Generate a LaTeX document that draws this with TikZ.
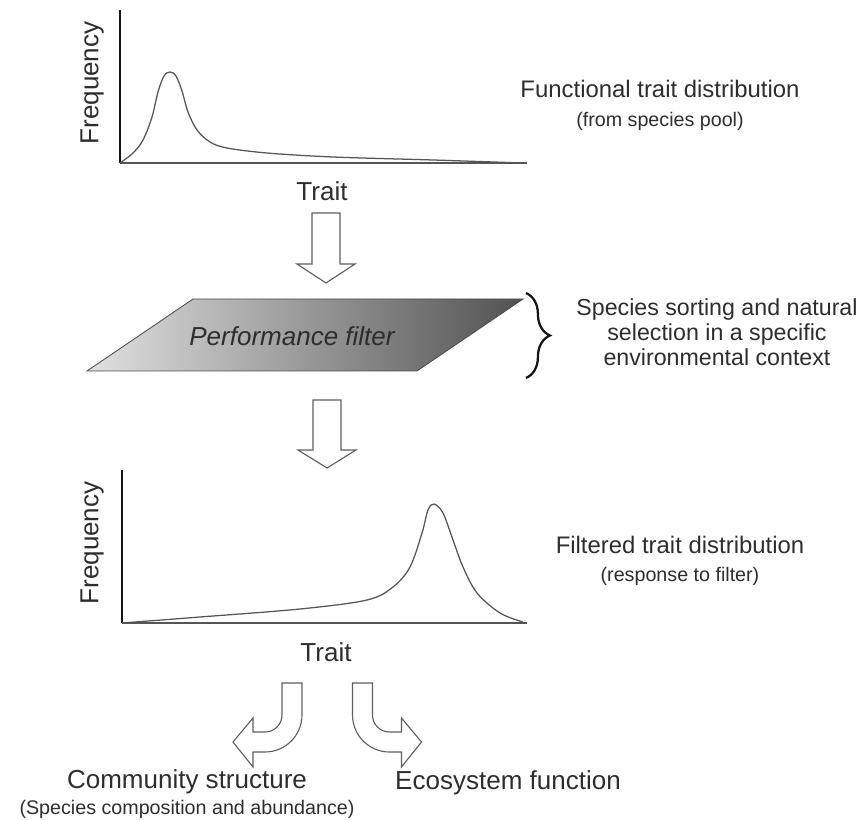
\documentclass[tikz,border=0pt]{standalone}
\usepackage{fontspec}
\setmainfont{Liberation Sans}
\usetikzlibrary{positioning,decorations.pathreplacing,calc}
\definecolor{txtcol}{RGB}{45,45,45}
\definecolor{axcol}{RGB}{20,20,20}
\definecolor{curvecol}{RGB}{85,85,85}
\definecolor{arrcol}{RGB}{95,95,95}

\begin{document}
\begin{tikzpicture}[
    x=0.025cm, y=-0.025cm,
    axlbl/.style={font=\fontsize{18.5}{20}\selectfont, text=txtcol, inner sep=0pt},
    title/.style={font=\fontsize{17}{19}\selectfont, text=txtcol, inner sep=0pt},
    subtitle/.style={font=\fontsize{14}{16}\selectfont, text=txtcol, inner sep=0pt},
    yaxis/.style={draw=axcol, line width=1.6pt},
    xaxis/.style={draw=curvecol, line width=1pt},
    distcurve/.style={draw=curvecol, line width=0.9pt},
    blockarr/.style={draw=arrcol, fill=white, line width=0.8pt, line join=miter},
    filterbox/.style={draw=black!70, line width=0.6pt, left color=black!12, right color=black!68},
]
\useasboundingbox (0,0) rectangle (863,820);

% ============ TOP: species pool distribution ============
\coordinate (o1) at (120,163);
\draw[yaxis] (120,10) -- (o1);
\draw[xaxis] (o1) -- (527,163);
\draw[distcurve] plot[smooth, tension=0.55] coordinates {
  (120,163) (133,153) (143,140) (152,117) (158,92) (164,76) (170,72)
  (176,76) (182,91) (188,112) (197,130) (210,142) (227,148) (267,153)
  (333,157) (433,160) (523,163)};
\node[axlbl, rotate=90] (freq1) at (92,83) {Frequency};
\node[axlbl] (trait1) at (322,191) {Trait};
\node[title] (ftd) at (660,89) {Functional trait distribution};
\node[subtitle, below=10pt of ftd] (pool) {(from species pool)};

% ============ ARROW INTO FILTER ============
\coordinate (arrA) at (326,213);
\draw[blockarr] (arrA) ++(-14,0) -- ++(28,0) -- ++(0,51) -- ++(15,0)
  -- ++(-29,19) -- ++(-29,-19) -- ++(15,0) -- cycle;

% ============ PERFORMANCE FILTER ============
\coordinate (ftl) at (193,299);
\coordinate (ftr) at (523,299);
\coordinate (fbr) at (417,371);
\coordinate (fbl) at (87,371);
\draw[filterbox] (fbl) -- (ftl) -- (ftr) -- (fbr) -- cycle;
\node[font=\fontsize{18.5}{20}\selectfont\itshape, text=txtcol, inner sep=0pt]
  (filter) at (292,336) {Performance filter};

% brace + explanation
\draw[decorate, decoration={brace, amplitude=17pt}, line width=1.6pt, axcol]
  (526,293) -- (526,378);
\node[title, align=center, font=\fontsize{16.5}{17.8}\selectfont] (sort) at (717,332)
  {Species sorting and natural\\selection in a specific\\environmental context};

% ============ ARROW OUT OF FILTER ============
\coordinate (arrB) at (327,400);
\draw[blockarr] (arrB) ++(-14,0) -- ++(28,0) -- ++(0,50) -- ++(15,0)
  -- ++(-29,18) -- ++(-29,-18) -- ++(15,0) -- cycle;

% ============ BOTTOM: filtered distribution ============
\coordinate (o2) at (122,623);
\draw[yaxis] (122,470) -- (o2);
\draw[xaxis] (o2) -- (527,623);
\draw[distcurve] plot[smooth, tension=0.55] coordinates {
  (122,623) (200,617) (300,609) (367,600) (393,587) (410,567) (422,533)
  (428,510) (434,504) (443,513) (453,540) (463,567) (477,593) (500,613)
  (523,622)};
\node[axlbl, rotate=90] (freq2) at (92,543) {Frequency};
\node[axlbl] (trait2) at (326,652) {Trait};
\node[title] (filt) at (680,545) {Filtered trait distribution};
\node[subtitle, below=9pt of filt] (resp) {(response to filter)};

% ============ BENT ARROWS ============
\draw[blockarr] (282,683) -- (302,683) -- (302,715)
  .. controls (302,735.4) and (285.4,752) .. (265,752) -- (253,752)
  -- (253,767) -- (233,742) -- (253,718) -- (253,732) -- (265,732)
  .. controls (274.4,732) and (282,724.4) .. (282,715) -- cycle;
\draw[blockarr] (372.5,683) -- (352.5,683) -- (352.5,715)
  .. controls (352.5,735.4) and (369.1,752) .. (389.5,752) -- (401.5,752)
  -- (401.5,767) -- (421.5,742) -- (401.5,718) -- (401.5,732) -- (389.5,732)
  .. controls (380.1,732) and (372.5,724.4) .. (372.5,715) -- cycle;

\node[axlbl] (comm) at (187,782) {Community structure};
\node[subtitle, below=4pt of comm] (compo) {(Species composition and abundance)};
\node[axlbl] (eco) at (508,783) {Ecosystem function};

\end{tikzpicture}
\end{document}
